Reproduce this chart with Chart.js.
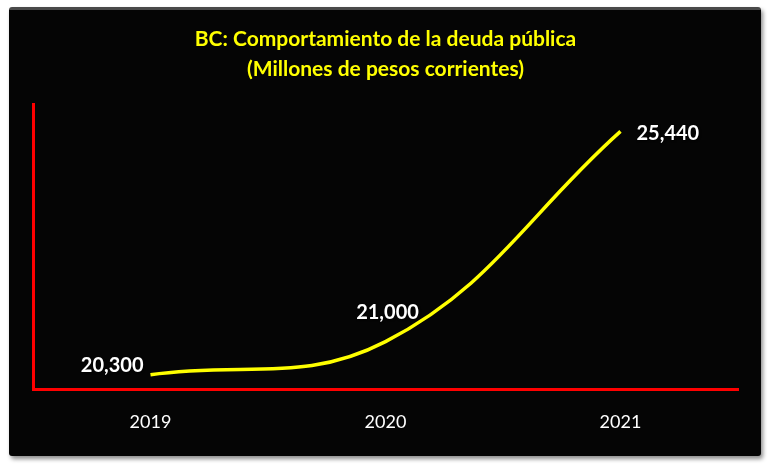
<!DOCTYPE html>
<html>
<head>
<meta charset="utf-8">
<script src="https://cdn.jsdelivr.net/npm/chart.js@4"></script>
<style>
    html, body { margin: 0; padding: 0; background: #fff; }
    #panel {
        position: absolute; left: 9px; top: 7px; width: 752px; height: 449px;
        background: #050505; border-radius: 3px;
        border-top: 3px solid #4a4a4a; box-sizing: border-box;
        box-shadow: 2px 3px 4px rgba(0,0,0,0.45);
    }
    #wrap { position: absolute; left: 0; top: 0; width: 771px; height: 470px; }
</style>
</head>
<body>
<div id="panel"></div>
<div id="wrap"><canvas id="myChart" width="771" height="470"></canvas></div>
<script>
const years = ['2019', '2020', '2021'];
const debt = [20300, 21000, 25440];
const titleLines = ['BC: Comportamiento de la deuda pública', '(Millones de pesos corrientes)'];

// Where each value label sits relative to its point
const labelPlace = ['left', 'above', 'right'];

const valueLabels = {
    id: 'valueLabels',
    afterDatasetsDraw(chart) {
        const ctx = chart.ctx;
        const meta = chart.getDatasetMeta(0);
        ctx.save();
        ctx.font = 'bold 20px Lato';
        ctx.fillStyle = '#ffffff';
        ctx.shadowColor = 'rgba(0,0,0,0.9)';
        ctx.shadowOffsetX = 1;
        ctx.shadowOffsetY = 1;
        ctx.shadowBlur = 2;
        ctx.textBaseline = 'middle';
        meta.data.forEach((pt, i) => {
            const txt = debt[i].toLocaleString('en-US');
            if (labelPlace[i] === 'left') {
                ctx.textAlign = 'right';
                ctx.fillText(txt, pt.x - 7, pt.y - 9);
            } else if (labelPlace[i] === 'above') {
                ctx.textAlign = 'center';
                ctx.fillText(txt, pt.x + 2, pt.y - 29);
            } else {
                ctx.textAlign = 'left';
                ctx.fillText(txt, pt.x + 16, pt.y + 2);
            }
        });
        ctx.restore();
    }
};

const ctx = document.getElementById('myChart').getContext('2d');

new Chart(ctx, {
    type: 'line',
    data: {
        labels: years,
        datasets: [{
            data: debt,
            borderColor: '#ffff00',
            borderWidth: 3.5,
            pointRadius: 0,
            tension: 0.4,
            fill: false
        }]
    },
    options: {
        responsive: false,
        animation: false,
        layout: { padding: { left: 33, right: 33, top: 0, bottom: 0 } },
        plugins: {
            legend: { display: false },
            tooltip: { enabled: false },
            title: {
                display: true,
                text: titleLines,
                color: '#ffff00',
                font: { family: 'Lato', size: 21, weight: 'bold', lineHeight: 1.45 },
                padding: { top: 24, bottom: 20 }
            }
        },
        scales: {
            x: {
                offset: true,
                grid: { display: false, drawTicks: false },
                border: { color: '#ff0000', width: 3 },
                ticks: { color: '#ffffff', font: { family: 'Lato', size: 18 }, padding: 22 },
                afterFit: s => { s.height = 81; }
            },
            y: {
                min: 20000,
                max: 26000,
                grid: { display: false, drawTicks: false },
                border: { color: '#ff0000', width: 3 },
                ticks: { display: false },
                afterFit: s => { s.width = 0; }
            }
        }
    },
    plugins: [valueLabels]
});
</script>
</body>
</html>
